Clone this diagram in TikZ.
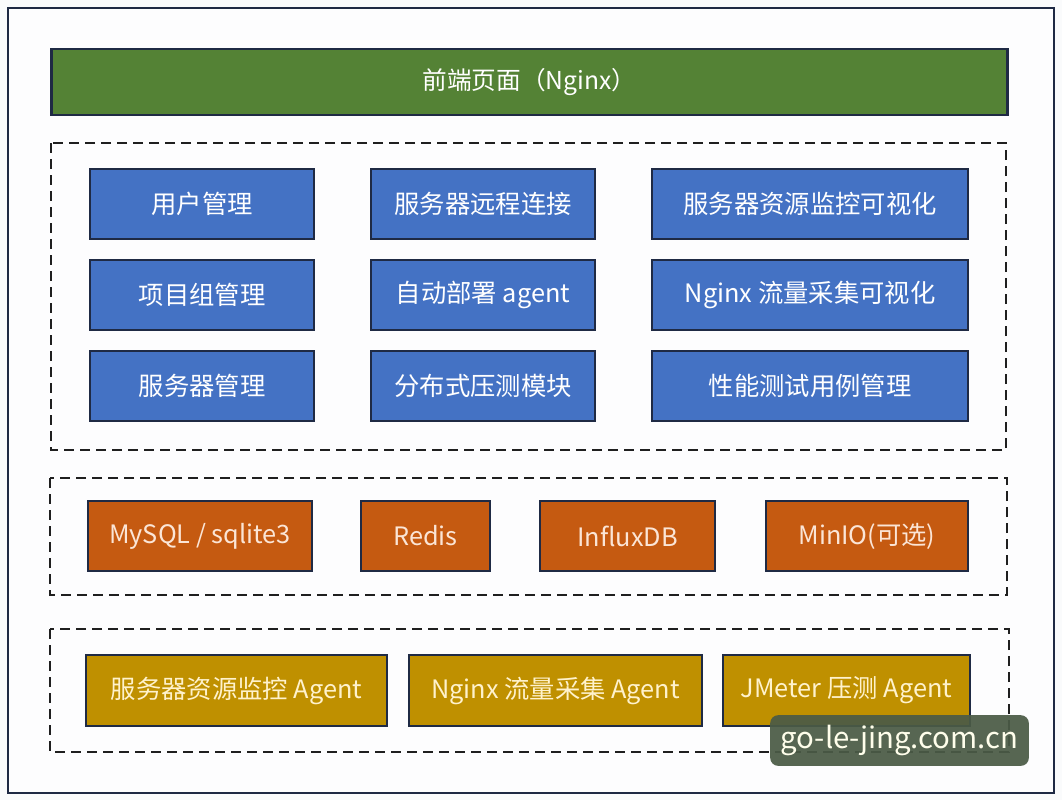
\documentclass[tikz,border=0pt]{standalone}
\usepackage{fontspec}
\setmainfont{Noto Sans CJK SC}
\newfontfamily\cjk{Noto Sans CJK SC}
\definecolor{navy}{HTML}{1F2A44}
\definecolor{greenbar}{HTML}{548235}
\definecolor{bluebox}{HTML}{4472C4}
\definecolor{orangebox}{HTML}{C55A11}
\definecolor{goldbox}{HTML}{BF9000}
\definecolor{creamtxt}{HTML}{FFF2CC}
\definecolor{peachtxt}{HTML}{FBE5D6}
\definecolor{wmfill}{HTML}{4B5B46}
\definecolor{bgc}{HTML}{FAFBFC}
\begin{document}
\begin{tikzpicture}[x=0.75pt,y=-0.75pt,
  box/.style={draw=navy,line width=1.6pt,minimum height=52.5pt,inner sep=0pt,font=\cjk\fontsize{19}{22}\selectfont},
  bluemod/.style={box,fill=bluebox,text=white},
  dbmod/.style={box,fill=orangebox,text=peachtxt},
  agentmod/.style={box,fill=goldbox,text=creamtxt},
  group/.style={draw=black!88,line width=1.9pt,dash pattern=on 7.5pt off 4.5pt}]
\useasboundingbox (0,0) rectangle (1062,800);
\fill[bgc] (0,0) rectangle (1062,800);
\draw[navy,line width=1.6pt,fill=white!60!bgc] (8,8) rectangle (1054,793);
% front
\node[box,fill=greenbar,text=white,minimum width=717pt,minimum height=49.5pt,font=\cjk\fontsize{18.5}{22}\selectfont] (front) at (529.5,82) {前端页面（Nginx）};
% groups
\draw[group] (51,143) rectangle (1006,450);
\draw[group] (50,478) rectangle (1007,595);
\draw[group] (50,629) rectangle (1009,752);
% blue modules
\node[bluemod,minimum width=168pt] (m11) at (202,204) {用户管理};
\node[bluemod,minimum width=168pt] (m12) at (483,204) {服务器远程连接};
\node[bluemod,minimum width=237pt] (m13) at (810,204) {服务器资源监控可视化};
\node[bluemod,minimum width=168pt] (m21) at (202,295) {项目组管理};
\node[bluemod,minimum width=168pt] (m22) at (483,295) {自动部署 agent};
\node[bluemod,minimum width=237pt] (m23) at (810,295) {Nginx 流量采集可视化};
\node[bluemod,minimum width=168pt] (m31) at (202,386) {服务器管理};
\node[bluemod,minimum width=168pt] (m32) at (483,386) {分布式压测模块};
\node[bluemod,minimum width=237pt] (m33) at (810,386) {性能测试用例管理};
% storage
\node[dbmod,minimum width=168pt] (mysql) at (200,536) {MySQL / sqlite3};
\node[dbmod,minimum width=96.75pt] (redis) at (425.5,536) {Redis};
\node[dbmod,minimum width=131.25pt] (influx) at (627.5,536) {InfluxDB};
\node[dbmod,minimum width=151.5pt] (minio) at (867,536) {MinIO(可选)};
% agents
\node[agentmod,minimum width=225.75pt,minimum height=53.25pt] (a1) at (236.5,690.5) {服务器资源监控 Agent};
\node[agentmod,minimum width=219.75pt,minimum height=53.25pt] (a2) at (555.5,690.5) {Nginx 流量采集 Agent};
\node[agentmod,minimum width=185.25pt,minimum height=53.25pt] (a3) at (846.5,690.5) {JMeter 压测 Agent};
% watermark
\node[fill=wmfill,fill opacity=0.93,text opacity=1,text=white!92!yellow,rounded corners=6pt,minimum width=194pt,minimum height=38pt,inner sep=0pt,font=\cjk\fontsize{22}{24}\selectfont] (wm) at (899.5,740.5) {go-le-jing.com.cn};
\end{tikzpicture}
\end{document}
